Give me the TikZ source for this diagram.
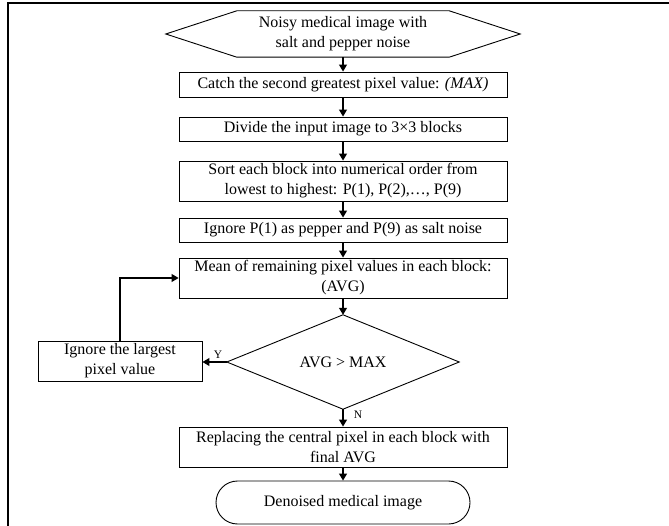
\documentclass[tikz,border=0pt]{standalone}
\usepackage{fontspec}
\setmainfont{Liberation Serif}
\usetikzlibrary{arrows.meta,shapes.misc}
\begin{document}
\begin{tikzpicture}[x=1pt,y=-1pt,
  font=\fontsize{16}{20}\selectfont,
  box/.style={draw, line width=0.9pt, minimum width=328pt, inner sep=0pt, align=center},
  ghost/.style={inner sep=0pt, align=center},
  outline/.style={line width=0.9pt},
  arr/.style={line width=1.2pt, -{Triangle[length=7pt,width=8pt]}},
  lbl/.style={font=\fontsize{11.5}{13}\selectfont, inner sep=0pt}]
\useasboundingbox (0,0) rectangle (669,526);
\draw[line width=1.4pt] (8,526) -- (8,3) -- (669,3);

\node[ghost, minimum width=354pt, minimum height=46pt] (hex) at (343,34) {Noisy medical image with\\salt and pepper noise};
\draw[outline] (hex.west) -- ([xshift=71pt]hex.north west) -- ([xshift=-71pt]hex.north east) -- (hex.east) -- ([xshift=-71pt]hex.south east) -- ([xshift=71pt]hex.south west) -- cycle;

\node[box, minimum height=25pt] (b1) at (343,84.5) {Catch the second greatest pixel value: \textit{(MAX)}};
\node[box, minimum height=24pt] (b2) at (343,129) {Divide the input image to 3×3 blocks};
\node[box, minimum height=40pt] (b3) at (343,181) {Sort each block into numerical order from\\lowest to highest: P(1), P(2),…, P(9)};
\node[box, minimum height=24pt] (b4) at (343,230) {Ignore P(1) as pepper and P(9) as salt noise};
\node[box, minimum height=40pt] (b5) at (343,278) {Mean of remaining pixel values in each block:\\(AVG)};
\node[ghost, minimum width=232pt, minimum height=94pt] (dia) at (343,362) {AVG > MAX};
\draw[outline] (dia.west) -- (dia.north) -- (dia.east) -- (dia.south) -- cycle;
\node[box, minimum width=164pt, minimum height=40pt] (lb) at (120,361) {Ignore the largest\\pixel value};
\node[box, minimum height=40pt] (b6) at (343,447) {Replacing the central pixel in each block with\\final AVG};
\node[draw, outline, rounded rectangle, minimum width=254pt, minimum height=43pt, inner sep=0pt] (end) at (343,502.5) {Denoised medical image};

\draw[arr] (hex.south) -- (b1.north);
\draw[arr] (b1.south) -- (b2.north);
\draw[arr] (b2.south) -- (b3.north);
\draw[arr] (b3.south) -- (b4.north);
\draw[arr] (b4.south) -- (b5.north);
\draw[arr] (b5.south) -- (dia.north);
\draw[arr] (dia.west) -- (lb.east |- dia.west);
\draw[arr] (lb.north) |- (b5.west);
\draw[arr] (dia.south) -- (b6.north);
\draw[arr] (b6.south) -- (end.north);
\node[lbl] (ylab) at (218,355) {Y};
\node[lbl] (nlab) at (358,415) {N};
\end{tikzpicture}
\end{document}
